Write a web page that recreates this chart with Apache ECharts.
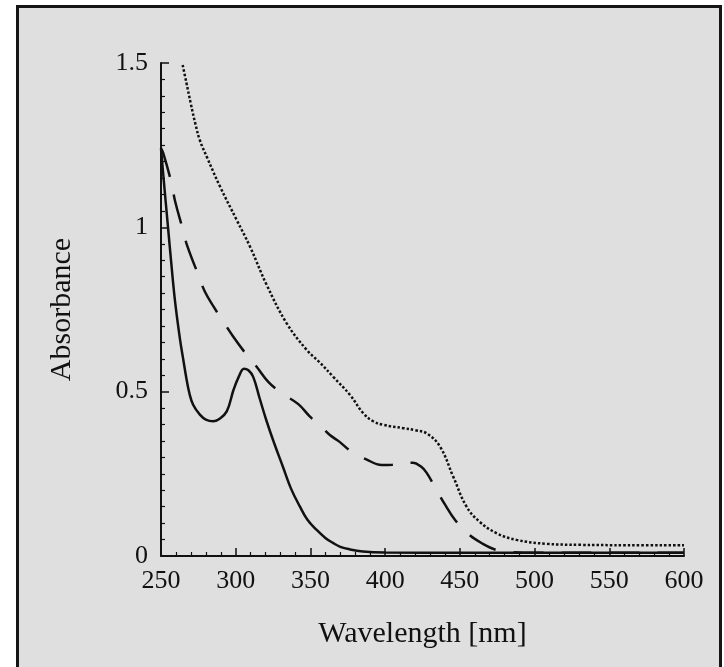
<!DOCTYPE html>
<html>
<head>
<meta charset="utf-8">
<script src="https://cdn.jsdelivr.net/npm/echarts@6/dist/echarts.min.js"></script>
<style>
  html, body { margin: 0; padding: 0; background: #ffffff; }
  #wrap { position: relative; width: 724px; height: 667px; overflow: hidden; background: #ffffff; }
  #frame { position: absolute; left: 16px; top: 5px; width: 706px; height: 720px; border: 3px solid #151515; background: #dfdfdf; box-sizing: border-box; }
  #chart { position: absolute; left: 0; top: 0; width: 724px; height: 667px; }
</style>
</head>
<body>
<div id="wrap">
  <div id="frame"></div>
  <div id="chart"></div>
</div>
<script>
// Wavelength [nm], absorbance pairs
const solidWl  = [250, 252, 254.5, 257, 259.4, 262.7, 265, 267, 269, 271.5, 276, 280, 284.8, 289, 294, 298.5, 302, 305.5, 308.5, 311.7, 316, 320.7, 326, 331.7, 337, 343, 348, 354, 360, 365, 370, 376.5, 385, 400, 450, 500, 550, 600];
const solidAbs = [1.24, 1.135, 1.01, 0.885, 0.775, 0.66, 0.595, 0.54, 0.495, 0.46, 0.43, 0.415, 0.41, 0.417, 0.44, 0.505, 0.545, 0.57, 0.565, 0.545, 0.48, 0.41, 0.34, 0.27, 0.205, 0.15, 0.11, 0.08, 0.055, 0.04, 0.028, 0.02, 0.014, 0.011, 0.01, 0.01, 0.01, 0.01];

const dashWl  = [250, 251.5, 257, 259.4, 264.5, 267.4, 275.4, 279.4, 285, 291.7, 298.4, 306, 314, 321.8, 331, 341.9, 349.7, 358, 363, 369.3, 377.6, 387, 397.7, 405, 410, 418.7, 424, 427.8, 434.5, 440, 446.7, 455.6, 465, 474.7, 485, 500, 550, 600];
const dashAbs = [1.24, 1.226, 1.135, 1.08, 0.995, 0.946, 0.85, 0.804, 0.76, 0.713, 0.667, 0.62, 0.576, 0.53, 0.495, 0.462, 0.424, 0.39, 0.368, 0.348, 0.317, 0.295, 0.277, 0.278, 0.282, 0.284, 0.272, 0.253, 0.2, 0.157, 0.11, 0.067, 0.038, 0.018, 0.012, 0.01, 0.01, 0.01];

const dotWl  = [264.5, 267, 270, 273, 276, 280.6, 289.5, 300.7, 309.6, 320.7, 334.1, 347.5, 356, 365.3, 376.5, 385.4, 392, 398.8, 412.2, 420, 427.8, 436.7, 445.6, 454.5, 463.3, 474.7, 488, 508, 530, 561.6, 600];
const dotAbs = [1.494, 1.44, 1.375, 1.315, 1.265, 1.215, 1.124, 1.022, 0.941, 0.825, 0.708, 0.627, 0.59, 0.545, 0.49, 0.434, 0.41, 0.399, 0.389, 0.383, 0.373, 0.333, 0.241, 0.15, 0.104, 0.069, 0.049, 0.037, 0.034, 0.033, 0.033];

const xTicks = [250, 300, 350, 400, 450, 500, 550, 600];
const yTicks = [0, 0.5, 1, 1.5];

const pairs = (xs, ys) => xs.map((x, i) => [x, ys[i]]);
const font = 'Liberation Serif';
const ink = '#111111';

const chart = echarts.init(document.getElementById('chart'), null, { renderer: 'canvas' });
chart.setOption({
  backgroundColor: 'transparent',
  animation: false,
  grid: { left: 161, right: 40, top: 63, bottom: 111, containLabel: false },
  xAxis: {
    type: 'value',
    min: xTicks[0], max: xTicks[xTicks.length - 1], interval: 50,
    name: 'Wavelength [nm]', nameLocation: 'middle', nameGap: 63,
    nameTextStyle: { fontFamily: font, fontSize: 30, color: ink },
    axisLine: { show: true, onZero: false, lineStyle: { color: ink, width: 2 } },
    axisTick: { show: true, inside: true, length: 8, lineStyle: { color: ink, width: 1.5 } },
    minorTick: { show: true, splitNumber: 5, length: 4, lineStyle: { color: ink, width: 1.2 } },
    axisLabel: { fontFamily: font, fontSize: 26, color: ink, margin: 12 },
    splitLine: { show: false }
  },
  yAxis: {
    type: 'value',
    min: yTicks[0], max: yTicks[yTicks.length - 1], interval: 0.5,
    name: 'Absorbance', nameLocation: 'middle', nameGap: 84,
    nameTextStyle: { fontFamily: font, fontSize: 30, color: ink },
    axisLine: { show: true, onZero: false, lineStyle: { color: ink, width: 2 } },
    axisTick: { show: true, inside: true, length: 8, lineStyle: { color: ink, width: 1.5 } },
    minorTick: { show: true, splitNumber: 10, length: 4, lineStyle: { color: ink, width: 1.2 } },
    axisLabel: { fontFamily: font, fontSize: 26, color: ink, margin: 13 },
    splitLine: { show: false }
  },
  series: [
    {
      type: 'line', data: pairs(solidWl, solidAbs), showSymbol: false, smooth: 0.4,
      lineStyle: { color: ink, width: 2.5, type: 'solid' }
    },
    {
      type: 'line', data: pairs(dashWl, dashAbs), showSymbol: false, smooth: 0.4,
      lineStyle: { color: ink, width: 2.5, type: [30, 18] }
    },
    {
      type: 'line', data: pairs(dotWl, dotAbs), showSymbol: false, smooth: 0.4,
      lineStyle: { color: ink, width: 2.5, type: [2.5, 2] }
    }
  ]
});
</script>
</body>
</html>
